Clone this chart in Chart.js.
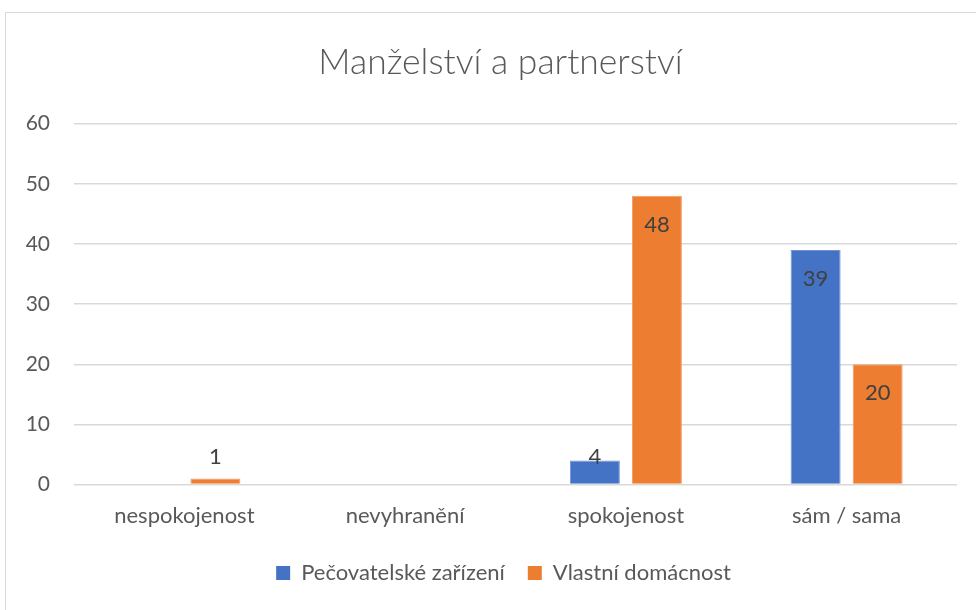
<!DOCTYPE html>
<html>
<head>
<meta charset="utf-8">
<script src="https://cdn.jsdelivr.net/npm/chart.js@4.4.0/dist/chart.umd.min.js"></script>
<style>
  html,body{margin:0;padding:0;background:#fff;}
  #wrap{position:relative;width:976px;height:610px;overflow:hidden;}
  #ramecek{position:absolute;left:5px;top:12px;width:1000px;height:700px;border:1px solid #d9d9d9;pointer-events:none;}
  canvas{position:absolute;left:0;top:0;}
</style>
</head>
<body>
<div id="wrap">
  <canvas id="myChart" width="976" height="610"></canvas>
  <div id="ramecek"></div>
</div>
<script>
// data
const kategorie = ["nespokojenost", "nevyhranění", "spokojenost", "sám / sama"];
const pecovatelske = [null, null, 4, 39];
const vlastni = [1, null, 48, 20];
const nazvySerii = ["Pečovatelské zařízení", "Vlastní domácnost"];
const osaY = [0, 10, 20, 30, 40, 50, 60];

const pismo = "Lato, 'Open Sans', sans-serif";

// popisky hodnot (jako v excelu - uvnitr na konci sloupce)
const popiskyPlugin = {
  id: 'popisky',
  afterDatasetsDraw(chart){
    const ctx = chart.ctx;
    const nula = chart.scales.y.getPixelForValue(0);
    ctx.save();
    ctx.font = "22px " + pismo;
    ctx.fillStyle = "#404040";
    ctx.textAlign = "center";
    ctx.textBaseline = "middle";
    chart.data.datasets.forEach((ds, i) => {
      const meta = chart.getDatasetMeta(i);
      meta.data.forEach((bar, j) => {
        const v = ds.data[j];
        if(v === null || v === undefined) return;
        let y = Math.min(bar.y + 29, nula - 28);
        ctx.fillText(String(v), bar.x, y);
      });
    });
    ctx.restore();
  }
};

// posun titulku a legendy doprava (excel je ma vystredene jinak)
const posunPlugin = {
  id: 'posun',
  afterLayout(chart){
    if(chart.titleBlock){ chart.titleBlock.left += 12; chart.titleBlock.right += 12; }
    if(chart.legend){ chart.legend.left += 15; chart.legend.right += 15; }
  }
};

const ctx = document.getElementById('myChart');
new Chart(ctx, {
  type: 'bar',
  data: {
    labels: kategorie,
    datasets: [{
      label: nazvySerii[0],
      data: pecovatelske,
      backgroundColor: "#4472C4",
      borderColor: "#6f93d3",
      borderWidth: 1,
      categoryPercentage: 0.562,
      barPercentage: 0.806
    },{
      label: nazvySerii[1],
      data: vlastni,
      backgroundColor: "#ED7D31",
      borderColor: "#f39a63",
      borderWidth: 1,
      categoryPercentage: 0.562,
      barPercentage: 0.806
    }]
  },
  options: {
    responsive: false,
    animation: false,
    layout: { padding: { left: 20, right: 19, top: 0, bottom: 16 } },
    plugins: {
      title: {
        display: true,
        text: "Manželství a partnerství",
        color: "#595959",
        font: { family: pismo, size: 35.5, weight: '300' },
        padding: { top: 41, bottom: 40 }
      },
      legend: {
        position: 'bottom',
        labels: {
          color: "#595959",
          font: { family: pismo, size: 22 },
          boxWidth: 14,
          boxHeight: 14,
          padding: 23,
          generateLabels(chart){
            return chart.data.datasets.map((ds, i) => ({
              text: ds.label,
              fillStyle: ds.backgroundColor,
              strokeStyle: ds.backgroundColor,
              lineWidth: 0,
              fontColor: "#595959",
              hidden: false,
              datasetIndex: i
            }));
          }
        }
      },
      tooltip: { enabled: false }
    },
    scales: {
      x: {
        grid: { display: false },
        border: { display: false },
        ticks: { color: "#595959", font: { family: pismo, size: 22 }, padding: 10 }
      },
      y: {
        min: 0,
        max: 60,
        afterBuildTicks(axis){ axis.ticks = osaY.map(v => ({ value: v })); },
        afterFit(axis){ axis.width = 54; },
        grid: { color: "#d9d9d9", lineWidth: 1.5, drawTicks: false },
        border: { display: false },
        ticks: { color: "#595959", font: { family: pismo, size: 21 }, padding: 24 }
      }
    }
  },
  plugins: [popiskyPlugin, posunPlugin]
});
</script>
</body>
</html>
